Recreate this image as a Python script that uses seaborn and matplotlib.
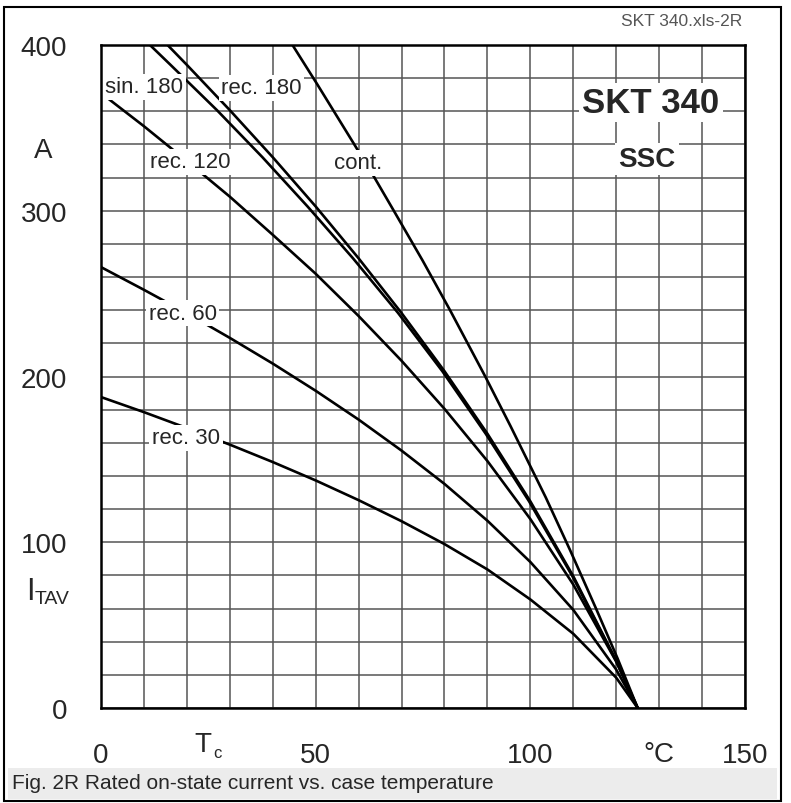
import numpy as np
import pandas as pd
import matplotlib
matplotlib.use("Agg")
import matplotlib.pyplot as plt
import seaborn as sns
from matplotlib.patches import Rectangle

# Rated on-state current I_TAV (A) vs. case temperature Tc (degC)
t_cont = [44.6, 50.2, 59.0, 63.7, 68.2, 74.9, 81.3, 89.5, 95.4, 103.6, 109.3, 115.3, 120.3, 125.0]
i_cont = [400, 377, 340, 320, 300, 270, 240, 200, 170, 127, 95, 60, 30, 0]

t_rec180 = [15.5, 20.0, 30.0, 40.0, 50.0, 60.0, 70.0, 80.0, 90.0, 100.0, 110.0, 120.0, 125.0]
i_rec180 = [400, 388, 360.7, 332.3, 302.6, 271.3, 238.3, 203.2, 165.5, 124.7, 79.5, 28.6, 0]

t_sin180 = [11.4, 16.2, 27.0, 37.6, 48.1, 58.7, 69.2, 79.5, 89.6, 99.7, 109.8, 119.95, 125.0]
i_sin180 = [400, 388, 360.7, 332.3, 302.6, 271.3, 238.3, 203.2, 165.5, 124.7, 79.5, 28.6, 0]

t_rec120 = [0, 10, 20, 30, 40, 50, 60, 70, 80, 90, 100, 110, 120, 125]
i_rec120 = [371, 351, 330, 308.5, 285.5, 262, 236.5, 209.5, 180.5, 149, 114, 74.5, 28, 0]

t_rec60 = [0, 10, 20, 30, 40, 50, 60, 70, 80, 90, 100, 110, 120, 125]
i_rec60 = [266, 252.3, 238.2, 223.3, 207.8, 191.4, 174.0, 155.3, 135.2, 113.0, 88.1, 59.2, 23.2, 0]

t_rec30 = [0, 10, 20, 30, 40, 50, 60, 70, 80, 90, 100, 110, 120, 125]
i_rec30 = [187.6, 178.5, 168.9, 158.9, 148.4, 137.3, 125.4, 112.7, 98.9, 83.6, 65.5, 44.8, 18.3, 0]

curve_names = ["cont.", "rec. 180", "sin. 180", "rec. 120", "rec. 60", "rec. 30"]
curve_t = [t_cont, t_rec180, t_sin180, t_rec120, t_rec60, t_rec30]
curve_i = [i_cont, i_rec180, i_sin180, i_rec120, i_rec60, i_rec30]

# curve label positions (Tc, I)
label_pos = {
    "sin. 180": (10.0, 374.7),
    "rec. 180": (37.4, 374.1),
    "rec. 120": (20.7, 329.5),
    "cont.": (59.9, 328.9),
    "rec. 60": (19.0, 238.3),
    "rec. 30": (19.8, 162.9),
}

x_major = [0, 50, 100, 150]
y_major = [0, 100, 200, 300, 400]

sns.set_style("white")
plt.rcParams["font.family"] = ["Liberation Sans", "DejaVu Sans"]

W, H = 791, 804
fig = plt.figure(figsize=(W / 100, H / 100), dpi=100)


def fx(x):
    return x / W


def fy(y):
    return 1 - y / H


ax = fig.add_axes([fx(101), fy(709), (745 - 101) / W, (709 - 46) / H])

df = pd.concat(
    [pd.DataFrame({"Tc": t, "ITAV": i, "curve": n}) for n, t, i in zip(curve_names, curve_t, curve_i)],
    ignore_index=True,
)
sns.lineplot(
    data=df, x="Tc", y="ITAV", hue="curve",
    palette={n: "black" for n in curve_names},
    estimator=None, sort=False, legend=False, linewidth=1.9, ax=ax,
)
for ln in ax.lines:
    ln.set_zorder(3)
    ln.set_solid_capstyle("butt")
    ln.set_solid_joinstyle("round")

ax.set_xlim(0, 150)
ax.set_ylim(0, 400)
ax.set_xticks(x_major)
ax.set_xticklabels([str(v) for v in x_major])
ax.set_xticks(np.arange(0, 151, 10), minor=True)
ax.set_yticks(y_major)
ax.set_yticklabels([str(v) for v in y_major])
ax.set_yticks(np.arange(0, 401, 20), minor=True)
ax.grid(which="both", color="#555555", linewidth=1.1)
ax.set_axisbelow(True)
ax.tick_params(which="both", length=0)
ax.tick_params(axis="x", pad=24.5, labelsize=20)
ax.tick_params(axis="y", pad=24.5, labelsize=20)
ax.set_xlabel("")
ax.set_ylabel("")
for s in ax.spines.values():
    s.set_visible(True)
    s.set_color("black")
    s.set_linewidth(1.8)
    s.set_zorder(6)

box = dict(boxstyle="square,pad=0.12", fc="white", ec="none")
for name, (tx, iy) in label_pos.items():
    ax.text(tx, iy, name, fontsize=16, ha="center", va="center", zorder=5, bbox=box)

ax.text(128.1, 365.3, "SKT 340", fontsize=25, fontweight="bold", ha="center", va="center",
        zorder=5, bbox=dict(boxstyle="square,pad=0.1", fc="white", ec="none"))
ax.text(127.2, 331.2, "SSC", fontsize=20, fontweight="bold", ha="center", va="center",
        zorder=5, bbox=dict(boxstyle="square,pad=0.12", fc="white", ec="none"))

# axis quantity and unit labels
fig.text(fx(43), fy(150.5), "A", fontsize=20, ha="center", va="center")
fig.text(fx(30), fy(600), "I", fontsize=22, ha="center", va="baseline")
fig.text(fx(35), fy(604), "TAV", fontsize=14, ha="left", va="baseline")
fig.text(fx(203), fy(752), "T", fontsize=20, ha="center", va="baseline")
fig.text(fx(213), fy(758), "c", fontsize=12, ha="left", va="baseline")
fig.text(fx(659), fy(762), "°C", fontsize=20, ha="center", va="baseline")

fig.text(fx(742), fy(22), "SKT 340.xls-2R", fontsize=12.5, color="#555555", ha="right", va="center")

# caption strip and outer frame
fig.add_artist(Rectangle((fx(8), fy(800)), (777 - 8) / W, (800 - 769) / H,
                         transform=fig.transFigure, fc="#ececec", ec="none", zorder=0))
fig.text(fx(12), fy(784), "Fig. 2R Rated on-state current vs. case temperature",
         fontsize=15, ha="left", va="center")
fig.add_artist(Rectangle((fx(4), fy(802)), (781 - 4) / W, (802 - 8) / H,
                         transform=fig.transFigure, fill=False, ec="black", lw=1.5))

fig.savefig("out.png", dpi=100, facecolor="white")
